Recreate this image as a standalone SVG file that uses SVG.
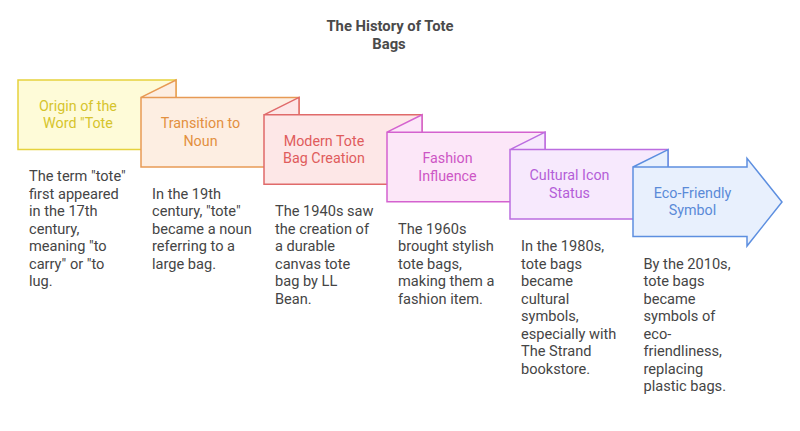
<svg xmlns="http://www.w3.org/2000/svg" width="800" height="431" viewBox="0 0 800 431">
<style>
  .title { font-family: Roboto, "Liberation Sans", sans-serif; font-size: 14.8px; font-weight: bold; fill: #4a4a4a; text-anchor: middle; }
  .lbl { font-family: Roboto, "Liberation Sans", sans-serif; font-size: 14.3px; text-anchor: middle; }
  .desc { font-family: Roboto, "Liberation Sans", sans-serif; font-size: 14.6px; fill: #454545; }
  .shape { stroke-width: 1.5; stroke-linejoin: miter; }
  .c1 .shape { fill: #fefbd8; stroke: #e6d23d; } .c1 .lbl { fill: #d6c42c; }
  .c2 .shape { fill: #fdeee2; stroke: #e79a55; } .c2 .lbl { fill: #e3903f; }
  .c3 .shape { fill: #fde7e7; stroke: #e06a6a; } .c3 .lbl { fill: #e05c5c; }
  .c4 .shape { fill: #fce7f8; stroke: #d462cf; } .c4 .lbl { fill: #cd56c5; }
  .c5 .shape { fill: #f7e9fd; stroke: #bb6de0; } .c5 .lbl { fill: #b45ed8; }
  .c6 .shape { fill: #e8f0fd; stroke: #5d8fe0; } .c6 .lbl { fill: #5a8ad8; }
</style>
<text class="title" x="390" y="31">The History of Tote</text>
<text class="title" x="389" y="48.5">Bags</text>

<g id="node1" class="c1">
  <path class="shape" d="M18,80 H176 V149.5 H18 Z"/>
  <text class="lbl" x="78" y="110.7">Origin of the</text>
  <text class="lbl" x="78" y="128.3">Word "Tote</text>
  <text class="desc"><tspan x="29" y="181">The term "tote"</tspan><tspan x="29" y="198.5">first appeared</tspan><tspan x="29" y="216">in the 17th</tspan><tspan x="29" y="233.5">century,</tspan><tspan x="29" y="251">meaning "to</tspan><tspan x="29" y="268.5">carry" or "to</tspan><tspan x="29" y="286">lug.</tspan></text>
</g>

<g id="node2" class="c2">
  <path class="shape" d="M141,97.4 H299 V166.9 H141 Z M141,97.4 L176,80 V97.4 Z"/>
  <text class="lbl" x="200.5" y="128.1">Transition to</text>
  <text class="lbl" x="200.5" y="145.7">Noun</text>
  <text class="desc"><tspan x="152" y="198.5">In the 19th</tspan><tspan x="152" y="216">century, "tote"</tspan><tspan x="152" y="233.5">became a noun</tspan><tspan x="152" y="251">referring to a</tspan><tspan x="152" y="268.5">large bag.</tspan></text>
</g>

<g id="node3" class="c3">
  <path class="shape" d="M264,114.8 H422 V184.3 H264 Z M264,114.8 L299,97.4 V114.8 Z"/>
  <text class="lbl" x="324" y="145.5">Modern Tote</text>
  <text class="lbl" x="324" y="163.1">Bag Creation</text>
  <text class="desc"><tspan x="275" y="216">The 1940s saw</tspan><tspan x="275" y="233.5">the creation of</tspan><tspan x="275" y="251">a durable</tspan><tspan x="275" y="268.5">canvas tote</tspan><tspan x="275" y="286">bag by LL</tspan><tspan x="275" y="303.5">Bean.</tspan></text>
</g>

<g id="node4" class="c4">
  <path class="shape" d="M387,132.2 H545 V201.7 H387 Z M387,132.2 L422,114.8 V132.2 Z"/>
  <text class="lbl" x="447.5" y="162.9">Fashion</text>
  <text class="lbl" x="447.5" y="180.5">Influence</text>
  <text class="desc"><tspan x="398" y="233.5">The 1960s</tspan><tspan x="398" y="251">brought stylish</tspan><tspan x="398" y="268.5">tote bags,</tspan><tspan x="398" y="286">making them a</tspan><tspan x="398" y="303.5">fashion item.</tspan></text>
</g>

<g id="node5" class="c5">
  <path class="shape" d="M510,149.6 H668 V219.1 H510 Z M510,149.6 L545,132.2 V149.6 Z"/>
  <text class="lbl" x="569.5" y="180.3">Cultural Icon</text>
  <text class="lbl" x="569.5" y="197.9">Status</text>
  <text class="desc"><tspan x="521" y="251">In the 1980s,</tspan><tspan x="521" y="268.5">tote bags</tspan><tspan x="521" y="286">became</tspan><tspan x="521" y="303.5">cultural</tspan><tspan x="521" y="321">symbols,</tspan><tspan x="521" y="338.5">especially with</tspan><tspan x="521" y="356">The Strand</tspan><tspan x="521" y="373.5">bookstore.</tspan></text>
</g>

<g id="node6" class="c6">
  <path class="shape" d="M633,167 H747 V158.3 L782,202 L747,246 V236.5 H633 Z M633,167 L668,149.6 V167 Z"/>
  <text class="lbl" x="692.5" y="197.7">Eco-Friendly</text>
  <text class="lbl" x="692.5" y="215.3">Symbol</text>
  <text class="desc"><tspan x="643.5" y="268.5">By the 2010s,</tspan><tspan x="643.5" y="286">tote bags</tspan><tspan x="643.5" y="303.5">became</tspan><tspan x="643.5" y="321">symbols of</tspan><tspan x="643.5" y="338.5">eco-</tspan><tspan x="643.5" y="356">friendliness,</tspan><tspan x="643.5" y="373.5">replacing</tspan><tspan x="643.5" y="391">plastic bags.</tspan></text>
</g>

<g id="connectors"></g>
</svg>
